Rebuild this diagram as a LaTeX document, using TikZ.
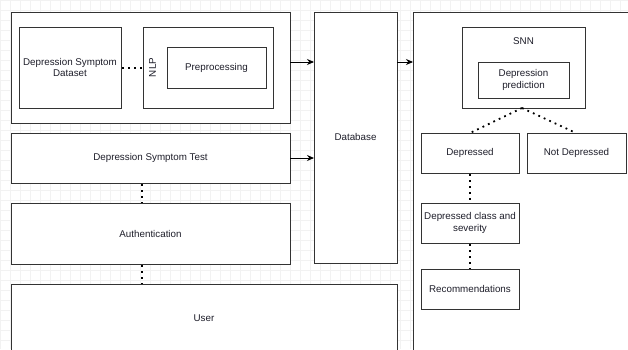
\documentclass[tikz,border=0pt]{standalone}
\usepackage{fontspec}
\setmainfont{Liberation Sans}
\usetikzlibrary{arrows.meta}
\definecolor{boxline}{HTML}{333333}
\definecolor{txt}{HTML}{1E1E2A}
\definecolor{gridc}{HTML}{F2F2F2}
\begin{document}
\begin{tikzpicture}[x=1pt,y=-1pt,
  every node/.style={font=\fontsize{9.8}{11.5}\selectfont, text=txt},
  blk/.style={draw=boxline, line width=0.9pt, fill=white},
  lbl/.style={align=center},
  dotline/.style={draw=black, line width=1.8pt, dash pattern=on 1.8pt off 4.2pt},
  arr/.style={draw=black, line width=0.9pt, -{Stealth[length=7pt,width=6pt]}}]
\useasboundingbox (0,0) rectangle (628,349);
\fill[white] (0,0) rectangle (628,349);
% faint grid
\foreach \x in {0,10,...,620} \draw[gridc, line width=0.5pt] (\x,0) -- (\x,349);
\foreach \y in {0,10,...,340} \draw[gridc, line width=0.5pt] (0,\y) -- (628,\y);

% left column
\draw[blk] (11,12) rectangle (290,123);
\coordinate (outerR) at (290,62);
\draw[blk] (19,27) rectangle (121,108);
\node[lbl] (dataset) at (70,67.5) {Depression Symptom\\Dataset};
\draw[blk] (143,27) rectangle (273,108);
\node[rotate=90] (nlp) at (152.5,67.5) {NLP};
\draw[blk] (167,47) rectangle (266,88);
\node (prep) at (216.5,67.5) {Preprocessing};
\coordinate (dsR) at (122,68);
\coordinate (nlpL) at (143,68);
\draw[dotline] (dsR) -- (nlpL);

\draw[blk] (11,133) rectangle (290,183);
\node (test) at (150.5,158) {Depression Symptom Test};
\coordinate (testR) at (290,158);
\coordinate (testB) at (142,184);

\draw[blk] (11,203) rectangle (290,264);
\node (auth) at (150.5,233.5) {Authentication};
\coordinate (authT) at (142,203);
\coordinate (authB) at (142,265);

\draw[blk] (11,284) rectangle (397,360);
\node (user) at (204,318) {User};
\coordinate (userT) at (142,284);

\draw[dotline] (testB) -- (authT);
\draw[dotline] (authB) -- (userT);

% database
\draw[blk] (314,12) rectangle (397,263);
\node (db) at (355.5,137) {Database};
\coordinate (dbL1) at (314,62);
\coordinate (dbL2) at (314,158);
\coordinate (dbR) at (397,62);
\draw[arr] (outerR) -- (dbL1);
\draw[arr] (testR) -- (dbL2);

% right panel
\draw[blk] (413,12) rectangle (640,360);
\coordinate (rightL) at (413,62);
\draw[arr] (dbR) -- (rightL);

\draw[blk] (462,27) rectangle (585,108);
\node (snn) at (523.5,41) {SNN};
\draw[blk] (478,62) rectangle (569,98);
\node[lbl] (pred) at (523.5,80) {Depression\\prediction};
\coordinate (snnB) at (522,108);

\draw[blk] (421,133) rectangle (519,173);
\node (dep) at (470,153) {Depressed};
\draw[blk] (527,133) rectangle (626,173);
\node (notdep) at (576.5,153) {Not Depressed};
\coordinate (depT) at (470,133);
\coordinate (depB) at (470,174);
\coordinate (notdepT) at (576,133);
\draw[dotline] (snnB) -- (depT);
\draw[dotline] (snnB) -- (notdepT);

\draw[blk] (421,203) rectangle (519,243);
\node[lbl] (cls) at (470,223) {Depressed class and\\severity};
\coordinate (clsT) at (470,203);
\coordinate (clsB) at (470,244);
\draw[blk] (421,269) rectangle (519,309);
\node (rec) at (470,289) {Recommendations};
\coordinate (recT) at (470,269);
\draw[dotline] (depB) -- (clsT);
\draw[dotline] (clsB) -- (recT);
\end{tikzpicture}
\end{document}
